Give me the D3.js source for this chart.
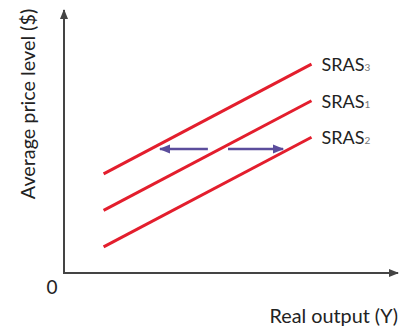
<!DOCTYPE html>
<html>
<head>
<meta charset="utf-8">
<script src="https://cdn.jsdelivr.net/npm/d3@7"></script>
<style>
  body { margin: 0; background: #fff; }
  text { font-family: Lato, "Open Sans", sans-serif; fill: #222; }
</style>
</head>
<body>
<svg id="mainsvg" width="406" height="330"></svg>
<script>
// curves: [x0, y0, x1, y1] in chart units (0..100 on both axes)
let curveNames = ["SRAS3", "SRAS1", "SRAS2"];
let curveBase = ["SRAS", "SRAS", "SRAS"];
let curveSub = ["3", "1", "2"];
let curveX = [12, 75];
let curveY0 = [38, 24, 10];
let curveY1 = [80, 66, 52];
// shift arrows: [from, to] on x, at one price level
let arrowFrom = [43.6, 49.7];
let arrowTo = [29.1, 66.4];
let arrowLevel = 47.5;

let svg = d3.select("#mainsvg");
let x = d3.scaleLinear().domain([0, 100]).range([64, 394]);
let y = d3.scaleLinear().domain([0, 100]).range([273, 12]);

let defs = svg.append("defs");
defs.append("marker")
    .attr("id", "axis-head")
    .attr("viewBox", "0 0 10 10")
    .attr("refX", 9).attr("refY", 5)
    .attr("markerWidth", 5).attr("markerHeight", 5)
    .attr("markerUnits", "strokeWidth")
    .attr("orient", "auto")
    .append("path").attr("d", "M0,1 L10,5 L0,9 Z").attr("fill", "#444");
defs.append("marker")
    .attr("id", "shift-head")
    .attr("viewBox", "0 0 10 10")
    .attr("refX", 9).attr("refY", 5)
    .attr("markerWidth", 4.5).attr("markerHeight", 4.5)
    .attr("markerUnits", "strokeWidth")
    .attr("orient", "auto")
    .append("path").attr("d", "M0,1 L10,5 L0,9 Z").attr("fill", "#5b4d9c");

// axes
svg.append("line")
    .attr("x1", x(0)).attr("y1", y(0))
    .attr("x2", x(0)).attr("y2", y(100) - 2)
    .attr("stroke", "#444").attr("stroke-width", 2)
    .attr("marker-end", "url(#axis-head)");
svg.append("line")
    .attr("x1", x(0) - 1).attr("y1", y(0))
    .attr("x2", x(100) + 4).attr("y2", y(0))
    .attr("stroke", "#444").attr("stroke-width", 2)
    .attr("marker-end", "url(#axis-head)");

// curves
svg.selectAll(".curve").data(curveNames).enter()
    .append("line")
    .attr("class", "curve")
    .attr("x1", x(curveX[0]))
    .attr("y1", (d, i) => y(curveY0[i]))
    .attr("x2", x(curveX[1]))
    .attr("y2", (d, i) => y(curveY1[i]))
    .attr("stroke", "#e31e2d").attr("stroke-width", 3)
    .attr("stroke-linecap", "butt");

let labels = svg.selectAll(".curve-label").data(curveNames).enter()
    .append("text")
    .attr("class", "curve-label")
    .attr("x", x(curveX[1]) + 10)
    .attr("y", (d, i) => y(curveY1[i]) + 7)
    .attr("font-size", 18);
labels.append("tspan").text((d, i) => curveBase[i]);
labels.append("tspan")
    .attr("font-size", 10)
    .attr("fill", "#777")
    .text((d, i) => curveSub[i]);

// shift arrows
svg.selectAll(".shift").data(arrowFrom).enter()
    .append("line")
    .attr("class", "shift")
    .attr("x1", d => x(d))
    .attr("x2", (d, i) => x(arrowTo[i]))
    .attr("y1", y(arrowLevel)).attr("y2", y(arrowLevel))
    .attr("stroke", "#5b4d9c").attr("stroke-width", 2.5)
    .attr("marker-end", "url(#shift-head)");

// axis text
svg.append("text")
    .attr("x", 52).attr("y", 294)
    .attr("text-anchor", "middle")
    .attr("font-size", 19)
    .text("0");
svg.append("text")
    .attr("x", 398).attr("y", 323)
    .attr("text-anchor", "end")
    .attr("font-size", 19.8)
    .text("Real output (Y)");
svg.append("text")
    .attr("transform", "translate(35,104) rotate(-90)")
    .attr("text-anchor", "middle")
    .attr("font-size", 19.8)
    .text("Average price level ($)");
</script>
</body>
</html>
